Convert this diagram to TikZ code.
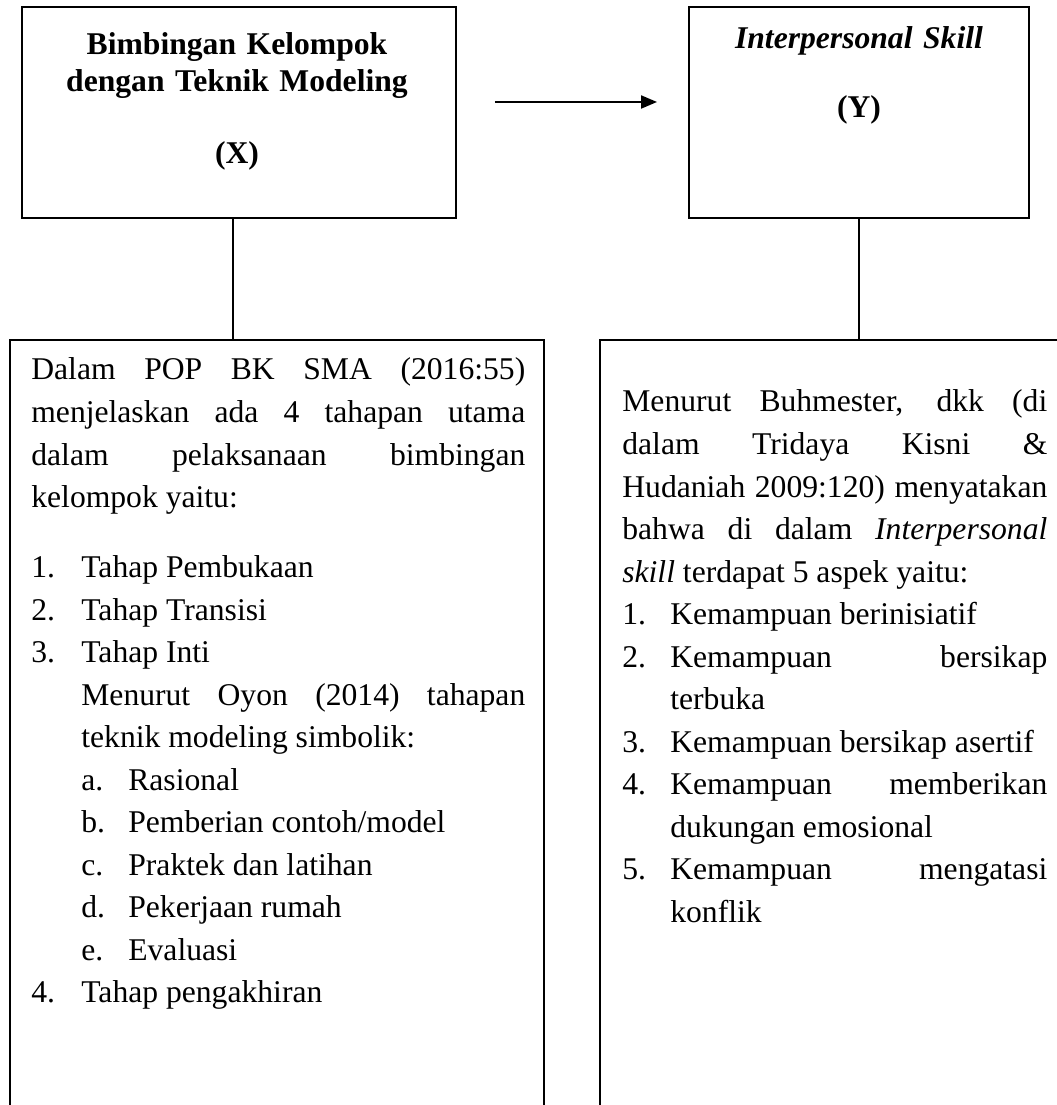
\documentclass[tikz,border=0pt]{standalone}
\usepackage{fontspec}
\setmainfont{Liberation Serif}
\usetikzlibrary{arrows.meta}
\def\butir#1#2#3{\par\hangindent=#1\hangafter=1\noindent\makebox[#1][l]{#2}#3\par}
\tikzset{
	kotak/.style={draw, line width=1.1pt, inner sep=0pt},
	judul/.style={font=\fontsize{18}{20.5}\selectfont\bfseries, text width=8cm, align=center, inner sep=0pt, anchor=base},
	isi/.style={font=\fontsize{18}{24.2}\selectfont, align=justify, inner sep=0pt, anchor=base west},
	garis/.style={line width=1.1pt}
}

\begin{document}
\begin{tikzpicture}
			%%%%% START %%%%%
			
			\useasboundingbox (0, 0) rectangle (21.14, 22.1);
			\clip (0, 0) rectangle (21.14, 22.1);
			
			\node[kotak, minimum width=8.68cm, minimum height=4.22cm] (kotakx) at (4.78, 19.85) {};
			\node[kotak, minimum width=6.8cm, minimum height=4.22cm] (kotaky) at (17.18, 19.85) {};
			\node[kotak, minimum width=10.68cm, minimum height=16cm] (teorix) at (5.54, 7.3) {};
			\node[kotak, minimum width=10cm, minimum height=16cm] (teoriy) at (17.0, 7.3) {};
			
			\node[judul] (judulx) at (4.74, 21.0) {Bimbingan Kelompok\\dengan Teknik Modeling\\[20.5pt](X)};
			\node[judul] (juduly) at (17.18, 21.12) {\textit{Interpersonal Skill}\\[18.6pt](Y)};
			
			\draw[garis, -{Triangle[length=0.32cm, width=0.26cm]}] ([shift={(0.76, 0.21)}]kotakx.east) -- ([shift={(-0.62, 0.21)}]kotaky.west);
			
			\draw[garis] ([xshift=-0.12cm]kotakx.south) -- ([xshift=-0.12cm]kotakx.south |- teorix.north);
			\draw[garis] (kotaky.south) -- (kotaky.south |- teoriy.north);
			
			\node[isi, text width=9.88cm] (tahapan) at (0.62, 14.5) {%
				Dalam POP BK SMA (2016:55)\linebreak menjelaskan ada 4 tahapan utama\linebreak dalam pelaksanaan bimbingan\linebreak kelompok yaitu:\par
				\vspace{15.6pt}
				\butir{1cm}{1.}{Tahap Pembukaan}
				\butir{1cm}{2.}{Tahap Transisi}
				\butir{1cm}{3.}{Tahap Inti}
				{\leftskip=1cm Menurut Oyon (2014) tahapan\linebreak teknik modeling simbolik:\par}
				{\leftskip=1cm \butir{0.94cm}{a.}{Rasional}}
				{\leftskip=1cm \butir{0.94cm}{b.}{Pemberian contoh/model}}
				{\leftskip=1cm \butir{0.94cm}{c.}{Praktek dan latihan}}
				{\leftskip=1cm \butir{0.94cm}{d.}{Pekerjaan rumah}}
				{\leftskip=1cm \butir{0.94cm}{e.}{Evaluasi}}
				\butir{1cm}{4.}{Tahap pengakhiran}
			};
			
			\node[isi, text width=8.5cm] (aspek) at (12.44, 13.86) {%
				Menurut Buhmester, dkk (di\linebreak dalam Tridaya Kisni \&\linebreak Hudaniah 2009:120) menyatakan\linebreak bahwa di dalam \textit{Interpersonal}\linebreak \textit{skill} terdapat 5 aspek yaitu:\par
				\butir{0.96cm}{1.}{Kemampuan berinisiatif}
				\butir{0.96cm}{2.}{Kemampuan bersikap\linebreak terbuka}
				\butir{0.96cm}{3.}{Kemampuan bersikap asertif}
				\butir{0.96cm}{4.}{Kemampuan memberikan\linebreak dukungan emosional}
				\butir{0.96cm}{5.}{Kemampuan mengatasi\linebreak konflik}
			};
			
			%%%%% END %%%%%
\end{tikzpicture}
\end{document}
